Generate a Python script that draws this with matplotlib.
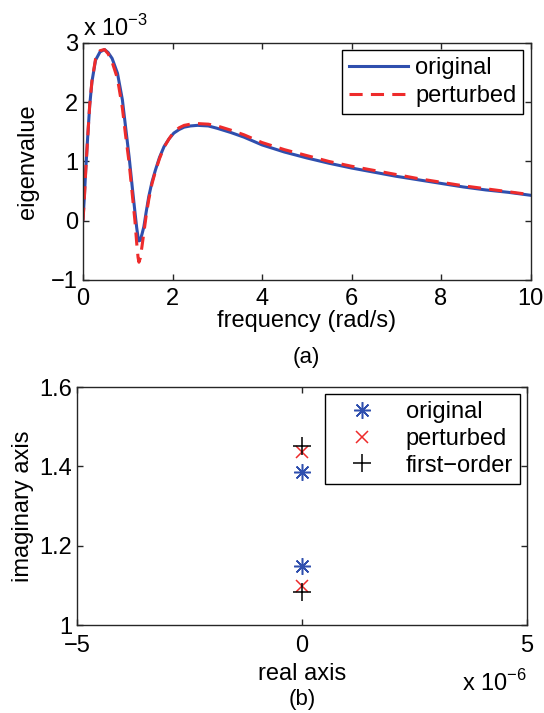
import matplotlib
matplotlib.use("Agg")
import matplotlib.pyplot as plt

# (a) eigenvalue vs frequency, values in units of 1e-3
freq = [0, 0.03, 0.06, 0.1, 0.15, 0.2, 0.28, 0.38, 0.48, 0.56,
        0.65, 0.77, 0.88, 0.95, 1.03, 1.1, 1.16, 1.2, 1.23, 1.25,
        1.28, 1.32, 1.36, 1.41, 1.47, 1.54, 1.62, 1.71, 1.81, 1.92,
        2.03, 2.15, 2.26, 2.4, 2.56, 2.8, 3.0, 3.3, 3.6, 4.0,
        4.5, 5.0, 5.5, 6.0, 6.5, 7.0, 7.5, 8.0, 8.5, 9.0,
        9.5, 10.0]
eig_original = [0.02, 0.4, 0.85, 1.36, 1.95, 2.35, 2.71, 2.85, 2.89, 2.84,
                2.74, 2.49, 2.04, 1.59, 1.08, 0.57, 0.15, -0.12, -0.28, -0.34,
                -0.33, -0.22, -0.1, 0.14, 0.41, 0.65, 0.86, 1.07, 1.25, 1.38,
                1.48, 1.54, 1.58, 1.6, 1.61, 1.6, 1.56, 1.49, 1.41, 1.28,
                1.16, 1.06, 0.97, 0.89, 0.82, 0.75, 0.69, 0.63, 0.57, 0.52,
                0.48, 0.43]
eig_perturbed = [0.0, 0.38, 0.83, 1.35, 1.96, 2.36, 2.73, 2.87, 2.89, 2.82,
                 2.68, 2.4, 1.9, 1.45, 0.98, 0.45, 0.0, -0.38, -0.62, -0.7,
                 -0.63, -0.42, -0.2, 0.08, 0.36, 0.62, 0.84, 1.05, 1.24, 1.38,
                 1.5, 1.57, 1.61, 1.63, 1.64, 1.63, 1.6, 1.53, 1.45, 1.32,
                 1.2, 1.1, 1.0, 0.92, 0.85, 0.78, 0.71, 0.65, 0.59, 0.54,
                 0.49, 0.44]

# (b) eigenvalues in the complex plane (real part in units of 1e-6)
re_original = [0, 0]
im_original = [1.386, 1.149]
re_perturbed = [0, 0]
im_perturbed = [1.437, 1.098]
re_first = [0, 0]
im_first = [1.452, 1.084]

plt.rcParams['font.family'] = ['Liberation Sans', 'DejaVu Sans']
plt.rcParams['font.size'] = 17

BLUE = '#2f4fae'
RED = '#ee2b2b'
AX = '#262626'


def style_axes(ax, xpad=6):
    for s in ax.spines.values():
        s.set_color(AX)
        s.set_linewidth(1.0)
    ax.tick_params(direction='in', length=4, width=1.0, color=AX,
                   top=True, right=True, labelsize=17)
    ax.tick_params(axis='x', pad=xpad)
    ax.tick_params(axis='y', pad=3.5)


fig = plt.figure(figsize=(5.44, 7.13), dpi=100)

ax1 = fig.add_axes([0.1526, 0.6073, 0.8226, 0.3324])
ax1.plot(freq, eig_original, color=BLUE, lw=2.2, label='original')
ax1.plot(freq, eig_perturbed, color=RED, lw=2.2, ls=(0, (4.3, 2.7)),
         label='perturbed')
ax1.set_xlim(0, 10)
ax1.set_ylim(-1, 3)
ax1.set_xticks([0, 2, 4, 6, 8, 10])
ax1.set_yticks([-1, 0, 1, 2, 3])
ax1.set_yticklabels(['\u22121', '0', '1', '2', '3'])
style_axes(ax1)
ax1.set_xlabel('frequency (rad/s)', labelpad=0)
ax1.set_ylabel('eigenvalue', labelpad=9)
ax1.text(0.0, 1.01, 'x 10$^{\\mathregular{\u22123}}$', transform=ax1.transAxes,
         ha='left', va='bottom', fontsize=17)
ax1.text(0.5, -0.325, '(a)', transform=ax1.transAxes, ha='center', va='center',
         fontsize=16)
leg1 = ax1.legend(loc='upper right', fancybox=False, edgecolor='black',
                  framealpha=1, handlelength=2.5, borderaxespad=0.3,
                  handletextpad=0.3, labelspacing=0.25, borderpad=0.3)
leg1.get_frame().set_linewidth(1.0)

ax2 = fig.add_axes([0.1415, 0.1234, 0.8272, 0.3338])
ast = (8, 2, 0)
ax2.plot(re_original, im_original, ls='none', marker=ast, ms=12, mew=1.1,
         color=BLUE, label='original')
ax2.plot(re_perturbed, im_perturbed, ls='none', marker='x', ms=9, mew=1.1,
         color=RED, label='perturbed')
ax2.plot(re_first, im_first, ls='none', marker='+', ms=13, mew=1.1,
         color='black', label='first\u2212order')
ax2.set_xlim(-5, 5)
ax2.set_ylim(1, 1.6)
ax2.set_xticks([-5, 0, 5])
ax2.set_xticklabels(['\u22125', '0', '5'])
ax2.set_yticks([1, 1.2, 1.4, 1.6])
ax2.set_yticklabels(['1', '1.2', '1.4', '1.6'])
style_axes(ax2, xpad=7.5)
ax2.set_xlabel('real axis', labelpad=4)
ax2.set_ylabel('imaginary axis', labelpad=4)
ax2.text(1.0, -0.19, 'x 10$^{\\mathregular{\u22126}}$', transform=ax2.transAxes,
         ha='right', va='top', fontsize=17)
ax2.text(0.5, -0.315, '(b)', transform=ax2.transAxes, ha='center', va='center',
         fontsize=16)
leg2 = ax2.legend(loc='upper right', fancybox=False, edgecolor='black',
                  framealpha=1, handlelength=2.5, borderaxespad=0.3,
                  handletextpad=0.6, labelspacing=0.2, borderpad=0.3)
leg2.get_frame().set_linewidth(1.0)

fig.savefig('out.png', dpi=100)
